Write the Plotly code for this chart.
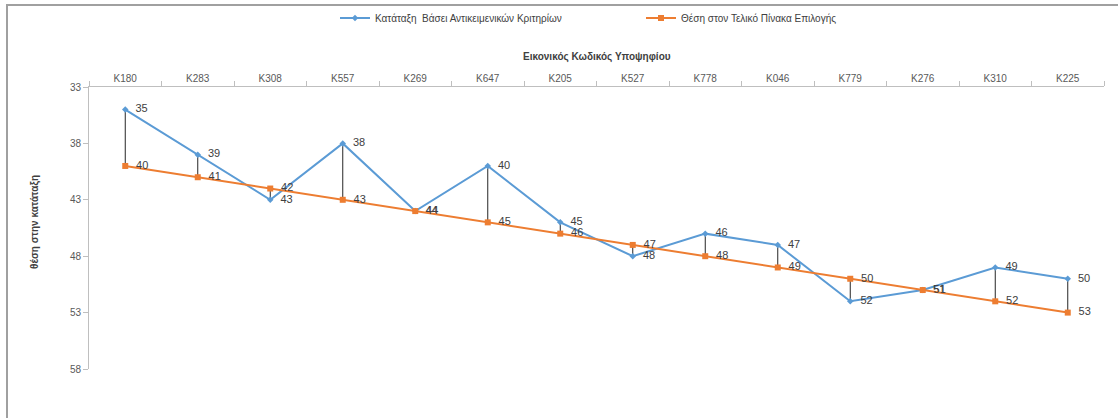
import plotly.graph_objects as go

categories = ["K180", "K283", "K308", "K557", "K269", "K647", "K205",
              "K527", "K778", "K046", "K779", "K276", "K310", "K225"]
objective_rank = [35, 39, 43, 38, 44, 40, 45, 48, 46, 47, 52, 51, 49, 50]
final_rank = [40, 41, 42, 43, 44, 45, 46, 47, 48, 49, 50, 51, 52, 53]

name_obj = "Κατάταξη  Βάσει Αντικειμενικών Κριτηρίων"
name_fin = "Θέση στον Τελικό Πίνακα Επιλογής"
x_title = "Εικονικός Κωδικός Υποψηφίου"
y_title = "θέση στην κατάταξη"

FONT = "Liberation Sans"
BLUE = "#5B9BD5"
ORANGE = "#ED7D31"
PAD = "\u00a0\u00a0"

# high-low drop lines
hx, hy = [], []
for c, a, b in zip(categories, objective_rank, final_rank):
    hx += [c, c, None]
    hy += [a, b, None]

fig = go.Figure()
fig.add_trace(go.Scatter(x=hx, y=hy, mode="lines", line=dict(color="#262626", width=1),
                         showlegend=False, hoverinfo="skip"))
fig.add_trace(go.Scatter(x=categories, y=objective_rank, name=name_obj,
                         mode="lines+markers+text", text=[PAD + str(v) for v in objective_rank],
                         textposition="middle right",
                         textfont=dict(family=FONT, size=11, color="#404040"),
                         line=dict(color=BLUE, width=2),
                         marker=dict(symbol="diamond", size=5, color=BLUE)))
fig.add_trace(go.Scatter(x=categories, y=final_rank, name=name_fin,
                         mode="lines+markers+text", text=[PAD + str(v) for v in final_rank],
                         textposition="middle right",
                         textfont=dict(family=FONT, size=11, color="#404040"),
                         line=dict(color=ORANGE, width=2),
                         marker=dict(symbol="square", size=6, color=ORANGE)))

L, R, T, B = 89, 14, 87, 49
W, H = 1118, 418
pw, ph = W - L - R, H - T - B

def px(x):
    return (x - L) / pw

def py(y):
    return (H - B - y) / ph

fig.update_layout(
    width=W, height=H,
    margin=dict(l=L, r=R, t=T, b=B, autoexpand=False),
    paper_bgcolor="white", plot_bgcolor="white",
    font=dict(family=FONT, size=10, color="#595959"),
    showlegend=True,
    legend=dict(orientation="h", x=px(335), xanchor="left", y=py(18), yanchor="middle",
                bgcolor="rgba(0,0,0,0)",
                font=dict(family=FONT, size=10, color="#404040"),
                itemwidth=30, entrywidthmode="pixels", entrywidth=261),
    xaxis=dict(type="category", side="top", range=[-0.5, 13.5], automargin=False,
               showline=True, linecolor="#BFBFBF", linewidth=1,
               ticks="outside", tickson="boundaries", ticklen=5, tickcolor="#BFBFBF",
               showgrid=False, zeroline=False,
               tickfont=dict(family=FONT, size=10, color="#595959")),
    yaxis=dict(range=[58, 33], tick0=33, dtick=5, automargin=False,
               showline=True, linecolor="#BFBFBF", linewidth=1,
               ticks="outside", ticklen=5, tickcolor="#BFBFBF",
               showgrid=False, zeroline=False,
               tickfont=dict(family=FONT, size=10, color="#595959")),
    annotations=[
        dict(text="<b>" + x_title + "</b>", xref="paper", yref="paper",
             x=0.5, y=py(57), xanchor="center", yanchor="middle", showarrow=False,
             font=dict(family=FONT, size=10, color="#404040")),
        dict(text="<b>" + y_title + "</b>", xref="paper", yref="paper",
             x=px(35), y=py(222), xanchor="center", yanchor="middle", showarrow=False,
             textangle=-90, font=dict(family=FONT, size=10, color="#404040")),
        dict(text="", xref="paper", yref="paper", x=px(6), y=py(4),
             xanchor="left", yanchor="top", showarrow=False,
             width=1300, height=600, borderpad=0, borderwidth=2,
             bordercolor="#A0A0A0", bgcolor="rgba(0,0,0,0)"),
    ],
)

fig.write_html("out.html", config={"displayModeBar": False},
               post_script="document.body.style.margin='0';document.body.style.overflow='hidden';")
